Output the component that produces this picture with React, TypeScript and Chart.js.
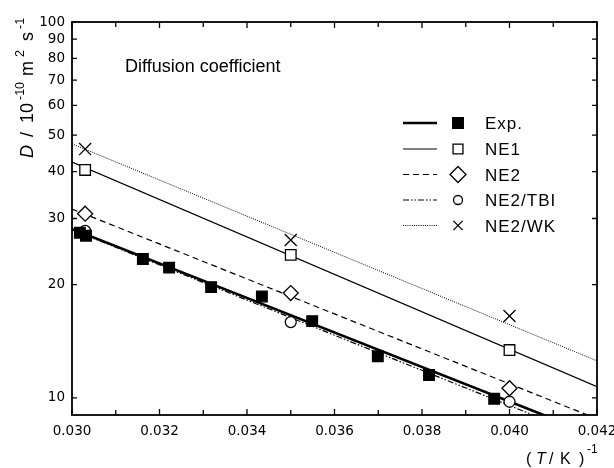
import React, { useEffect, useRef } from 'react';
import { Chart, registerables } from 'chart.js';
import { drawPoint } from 'chart.js/helpers';

Chart.register(...registerables);

// ---- data ----
const xTickValues = [0.030, 0.032, 0.034, 0.036, 0.038, 0.040, 0.042];
const yTickValues = [10, 20, 30, 40, 50, 60, 70, 80, 90, 100];

const expInvT = [0.03018, 0.03032, 0.03162, 0.03222, 0.03318, 0.03434, 0.03549, 0.03699, 0.03816, 0.03965];
const expD = [27.5, 27.0, 23.4, 22.2, 19.7, 18.6, 16.0, 12.9, 11.5, 9.94];

const modelInvT = [0.0303, 0.035, 0.040];
const ne1D = [40.4, 24.0, 13.4];
const ne2D = [30.9, 19.0, 10.6];
const tbiD = [27.8, 15.9, 9.76];
const wkD = [45.9, 26.3, 16.5];

const fitInvT = [0.030, 0.042];
const expFitD = [28.15, 7.91];
const ne1FitD = [42.4, 10.7];
const ne2FitD = [31.8, 8.79];
const tbiFitD = [28.0, 7.69];
const wkFitD = [47.4, 12.54];

const seriesLabels = ['Exp.', 'NE1', 'NE2', 'NE2/TBI', 'NE2/WK'];
const chartTitle = 'Diffusion coefficient';

// ---- styles ----
const styles = [
  { width: 2.6, dash: [] as number[], pointStyle: 'rect', radius: 7.5, fill: '#000', legendRadius: 7.5 },
  { width: 1.2, dash: [] as number[], pointStyle: 'rect', radius: 7.5, fill: '#fff', legendRadius: 7 },
  { width: 1.2, dash: [6, 4], pointStyle: 'rectRot', radius: 7.5, fill: '#fff', legendRadius: 8 },
  { width: 1.2, dash: [6, 2, 1.5, 2, 1.5, 2], pointStyle: 'circle', radius: 5.5, fill: '#fff', legendRadius: 4.5 },
  { width: 1, dash: [1, 1.2], pointStyle: 'crossRot', radius: 8.5, fill: '#fff', legendRadius: 6.5 },
];
const legendCenters = [123, 149, 174.5, 200, 225.5];
const SANS = '"Liberation Sans", Arial, sans-serif';

const toXY = (xs: number[], ys: number[]) => xs.map((x, i) => ({ x, y: ys[i] }));

type Part = { t: string; dx: number; font: string; rise: number };
function drawParts(ctx: CanvasRenderingContext2D, parts: Part[]) {
  for (const p of parts) {
    ctx.font = p.font;
    ctx.fillText(p.t, p.dx, -p.rise);
  }
}

const decorPlugin = {
  id: 'decor',
  afterDraw(chart: any) {
    const { ctx, chartArea: a, scales } = chart;
    const x = scales.x;
    const y = scales.y;
    ctx.save();
    ctx.strokeStyle = '#000';
    ctx.fillStyle = '#000';
    ctx.setLineDash([]);
    // frame
    ctx.lineWidth = 1.8;
    ctx.strokeRect(a.left, a.top, a.right - a.left, a.bottom - a.top);
    // ticks
    ctx.lineWidth = 1.3;
    ctx.beginPath();
    const xp = x.ticks.map((t: any) => x.getPixelForValue(t.value));
    xp.forEach((px: number, i: number) => {
      ctx.moveTo(px, a.bottom); ctx.lineTo(px, a.bottom - 6);
      ctx.moveTo(px, a.top); ctx.lineTo(px, a.top + 6);
      if (i < xp.length - 1) {
        const m = (px + xp[i + 1]) / 2;
        ctx.moveTo(m, a.bottom); ctx.lineTo(m, a.bottom - 5);
        ctx.moveTo(m, a.top); ctx.lineTo(m, a.top + 5);
      }
    });
    y.ticks.forEach((t: any) => {
      const py = y.getPixelForValue(t.value);
      ctx.moveTo(a.left, py); ctx.lineTo(a.left + 5, py);
      ctx.moveTo(a.right, py); ctx.lineTo(a.right - 5, py);
    });
    ctx.stroke();

    // title
    ctx.textBaseline = 'alphabetic';
    ctx.textAlign = 'left';
    ctx.font = `18px ${SANS}`;
    ctx.fillText(chartTitle, a.left + 53, a.top + 50);

    // legend
    styles.forEach((s, i) => {
      const cy = legendCenters[i];
      ctx.save();
      ctx.lineWidth = s.width;
      ctx.setLineDash(s.dash);
      ctx.beginPath();
      ctx.moveTo(403, cy);
      ctx.lineTo(437, cy);
      ctx.stroke();
      ctx.setLineDash([]);
      ctx.lineWidth = 1.3;
      ctx.fillStyle = s.fill;
      drawPoint(ctx, { pointStyle: s.pointStyle, radius: s.legendRadius, borderWidth: 1.3, rotation: 0 } as any, 458, cy);
      ctx.fillStyle = '#000';
      ctx.font = `17px ${SANS}`;
      (ctx as any).letterSpacing = '1px';
      ctx.fillText(seriesLabels[i], 485, cy + 6);
      (ctx as any).letterSpacing = '0px';
      ctx.restore();
    });

    // y title (rotated)
    ctx.save();
    ctx.translate(33, 158);
    ctx.rotate(-Math.PI / 2);
    drawParts(ctx, [
      { t: 'D', dx: 0, font: `italic 18px ${SANS}`, rise: 0 },
      { t: '/', dx: 21, font: `18px ${SANS}`, rise: 0 },
      { t: '10', dx: 35, font: `18px ${SANS}`, rise: 0 },
      { t: '-10', dx: 58, font: `12.5px ${SANS}`, rise: 9 },
      { t: 'm', dx: 82, font: `18px ${SANS}`, rise: 0 },
      { t: '2', dx: 101, font: `12.5px ${SANS}`, rise: 9 },
      { t: 's', dx: 117, font: `18px ${SANS}`, rise: 0 },
      { t: '-1', dx: 129, font: `12.5px ${SANS}`, rise: 9 },
    ]);
    ctx.restore();

    // x title
    ctx.save();
    ctx.translate(0, 464);
    drawParts(ctx, [
      { t: '(', dx: 526, font: `16px ${SANS}`, rise: 0 },
      { t: 'T', dx: 536, font: `italic 16px ${SANS}`, rise: 0 },
      { t: '/', dx: 549, font: `16px ${SANS}`, rise: 0 },
      { t: 'K', dx: 560, font: `16px ${SANS}`, rise: 0 },
      { t: ')', dx: 579, font: `16px ${SANS}`, rise: 0 },
      { t: '-1', dx: 587, font: `12px ${SANS}`, rise: 11 },
    ]);
    ctx.restore();

    ctx.restore();
  },
};

export default function App() {
  const ref = useRef<HTMLCanvasElement | null>(null);
  useEffect(() => {
    if (!ref.current) return;
    const pts: [number[], number[]][] = [
      [expInvT, expD],
      [modelInvT, ne1D],
      [modelInvT, ne2D],
      [modelInvT, tbiD],
      [modelInvT, wkD],
    ];
    const fits = [expFitD, ne1FitD, ne2FitD, tbiFitD, wkFitD];
    const datasets: any[] = [
      ...fits.map((f, i) => ({
        label: seriesLabels[i] + ' fit',
        data: toXY(fitInvT, f),
        showLine: true,
        borderColor: '#000',
        borderWidth: styles[i].width,
        borderDash: styles[i].dash,
        pointRadius: 0,
        fill: false,
        order: 2,
      })),
      ...pts.map(([xs, ys], i) => ({
        label: seriesLabels[i],
        data: toXY(xs, ys),
        showLine: false,
        pointStyle: styles[i].pointStyle,
        pointRadius: styles[i].radius,
        pointBorderWidth: 1.3,
        pointBorderColor: '#000',
        pointBackgroundColor: styles[i].fill,
        order: 1,
      })),
    ];
    const tickFont = { family: '"DejaVu Sans", sans-serif', size: 13.5 };
    const chart = new Chart(ref.current, {
      type: 'scatter',
      data: { datasets },
      options: {
        responsive: false,
        animation: false,
        devicePixelRatio: 1,
        events: [],
        layout: { padding: { top: 22, right: 17, left: 0, bottom: 0 } },
        plugins: { legend: { display: false }, tooltip: { enabled: false }, title: { display: false } },
        scales: {
          x: {
            type: 'linear',
            min: 0.030,
            max: 0.042,
            afterBuildTicks: (s: any) => { s.ticks = xTickValues.map((v) => ({ value: v })); },
            afterFit: (s: any) => { s.height = 53; s.paddingLeft = 0; s.paddingRight = 0; },
            ticks: {
              autoSkip: false, maxRotation: 0, minRotation: 0, padding: 8, color: '#000', font: tickFont,
              callback: (v: any) => Number(v).toFixed(3),
            },
            grid: { display: false, drawTicks: false },
            border: { display: false },
          },
          y: {
            type: 'logarithmic',
            min: 9,
            max: 100,
            afterBuildTicks: (s: any) => { s.ticks = yTickValues.map((v) => ({ value: v })); },
            afterFit: (s: any) => { s.width = 72; s.paddingTop = 0; s.paddingBottom = 0; },
            ticks: {
              autoSkip: false, padding: 7, color: '#000', font: tickFont,
              callback: (v: any) => String(v),
            },
            grid: { display: false, drawTicks: false },
            border: { display: false },
          },
        },
      } as any,
      plugins: [decorPlugin],
    });
    return () => chart.destroy();
  }, []);
  return (
    <div style={{ position: 'absolute', left: 0, top: 0, width: 614, height: 468, background: '#fff' }}>
      <canvas ref={ref} width={614} height={468} style={{ width: 614, height: 468, display: 'block' }} />
    </div>
  );
}
